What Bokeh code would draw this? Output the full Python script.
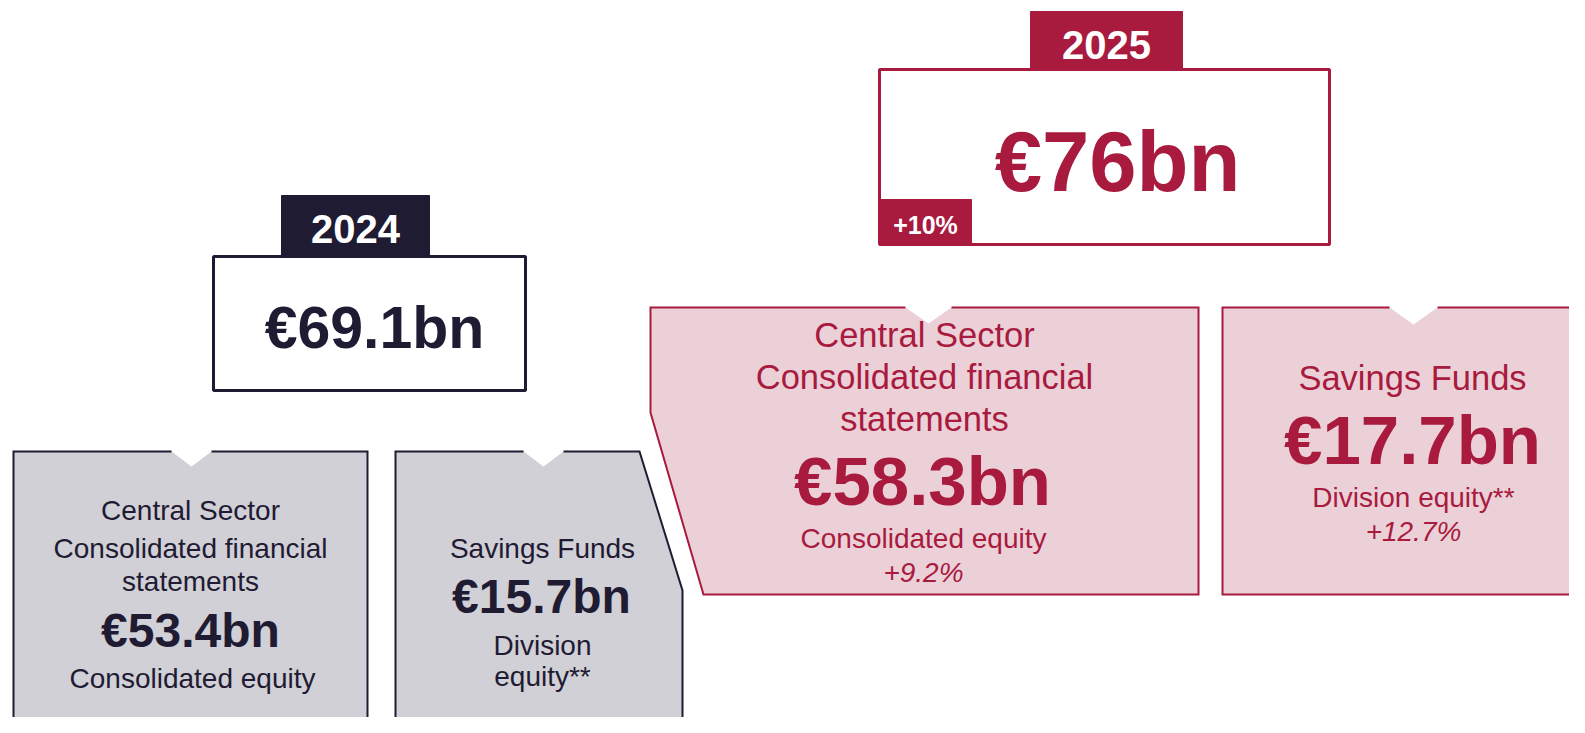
from bokeh.plotting import figure
from bokeh.models import Range1d, ColumnDataSource
from bokeh.core.properties import value
from bokeh.embed import file_html
from bokeh.resources import INLINE

# ---------------- data ----------------
years = ["2024", "2025"]
total_bn = [69.1, 76.0]
total_change = ["", "+10%"]

segments = ["Central Sector", "Savings Funds"]
segment_sub = ["Consolidated financial statements", ""]
equity_labels = ["Consolidated equity", "Division equity**"]
seg_bn_2024 = [53.4, 15.7]
seg_bn_2025 = [58.3, 17.7]
seg_change_2025 = ["+9.2%", "+12.7%"]


def eur(v):
    return "€%sbn" % ("%g" % v)


# ---------------- style ----------------
NAVY = "#1f1b33"
CRIMSON = "#a81a3e"
PINK = "#ecd0d8"
GREY = "#d1d0d6"
FONT = "Liberation Sans"

W, H = 1569, 717
p = figure(width=W, height=H, x_range=Range1d(0, W), y_range=Range1d(H, 0),
           output_backend="svg", toolbar_location=None, min_border=0,
           x_axis_location=None, y_axis_location=None)
p.grid.visible = False
p.outline_line_color = None
p.background_fill_color = "white"
p.border_fill_color = "white"


def shape(xs, ys, fill, line, border_segments, lw=2):
    p.patch(xs, ys, fill_color=fill, line_alpha=0)
    bx = [s[0] for s in border_segments]
    by = [s[1] for s in border_segments]
    p.multi_line(bx, by, line_color=line, line_width=lw, line_join="miter")


# 2024 segment boxes (grey)
shape([13, 171, 191, 211, 367, 367, 13], [451, 451, 466, 451, 451, 760, 760], GREY, NAVY,
      [([13, 13, 171], [760, 451, 451]), ([211, 367, 367], [451, 451, 760])])
shape([395, 523, 543, 563, 639, 682, 682, 395], [451, 451, 466, 451, 451, 590, 760, 760], GREY, NAVY,
      [([395, 395, 523], [760, 451, 451]), ([563, 639, 682, 682], [451, 451, 590, 760])])

# 2025 segment boxes (pink)
shape([650, 905, 928, 951, 1198, 1198, 703, 650], [307, 307, 323, 307, 307, 594, 594, 412], PINK, CRIMSON,
      [([905, 650, 650, 703, 1198, 1198, 951], [307, 307, 412, 594, 594, 307, 307])])
shape([1222, 1389, 1413, 1437, 1620, 1620, 1222], [307, 307, 324, 307, 307, 594, 594], PINK, CRIMSON,
      [([1389, 1222, 1222, 1620], [307, 307, 594, 594]), ([1437, 1620], [307, 307])])

# total boxes
p.quad(left=[213], right=[525], top=[256], bottom=[390], fill_color="white", line_color=NAVY, line_width=3)
p.quad(left=[281], right=[429], top=[195], bottom=[256], fill_color=NAVY, line_color=NAVY, line_width=1)
p.quad(left=[879], right=[1329], top=[69], bottom=[244], fill_color="white", line_color=CRIMSON, line_width=3)
p.quad(left=[1030], right=[1182], top=[11], bottom=[69], fill_color=CRIMSON, line_color=CRIMSON, line_width=1)
p.quad(left=[879], right=[971], top=[199], bottom=[245], fill_color=CRIMSON, line_color=CRIMSON, line_width=1)


def txt(xs, ys, texts, size, color, style="normal"):
    src = ColumnDataSource(dict(x=xs, y=ys, t=texts))
    p.text(x="x", y="y", text="t", source=src, text_font=value(FONT),
           text_font_size=value("%spx" % size), text_font_style=style, text_color=color,
           text_align="center", text_baseline="alphabetic")


# year labels
txt([355], [228], [years[0]], 40, "white", "bold")
txt([1106], [44], [years[1]], 40, "white", "bold")
# totals
txt([374], [327], [eur(total_bn[0])], 59, NAVY, "bold")
txt([1117], [161], [eur(total_bn[1])], 85, CRIMSON, "bold")
txt([925], [224], [total_change[1]], 25, "white", "bold")

# 2024 segment texts
sub_lines = segment_sub[0].rsplit(" ", 1)
txt([190, 190, 190], [510, 548, 581], [segments[0], sub_lines[0], sub_lines[1]], 28, NAVY)
txt([190], [630], [eur(seg_bn_2024[0])], 48, NAVY, "bold")
txt([192], [678], [equity_labels[0]], 28, NAVY)

div_lines = equity_labels[1].split(" ")
txt([542], [548], [segments[1]], 28, NAVY)
txt([541], [596], [eur(seg_bn_2024[1])], 48, NAVY, "bold")
txt([542, 542], [645, 676], div_lines, 28, NAVY)

# 2025 segment texts
txt([924, 924, 924], [334, 376, 418], [segments[0], sub_lines[0], sub_lines[1]], 34.5, CRIMSON)
txt([922], [481], [eur(seg_bn_2025[0])], 69, CRIMSON, "bold")
txt([923], [538], [equity_labels[0]], 28, CRIMSON)
txt([923], [572], [seg_change_2025[0]], 28, CRIMSON, "italic")

txt([1412], [377], [segments[1]], 34.5, CRIMSON)
txt([1412], [440], [eur(seg_bn_2025[1])], 69, CRIMSON, "bold")
txt([1413], [497], [equity_labels[1]], 28, CRIMSON)
txt([1413], [531], [seg_change_2025[1]], 28, CRIMSON, "italic")

open("out.html", "w").write(file_html(p, INLINE))
